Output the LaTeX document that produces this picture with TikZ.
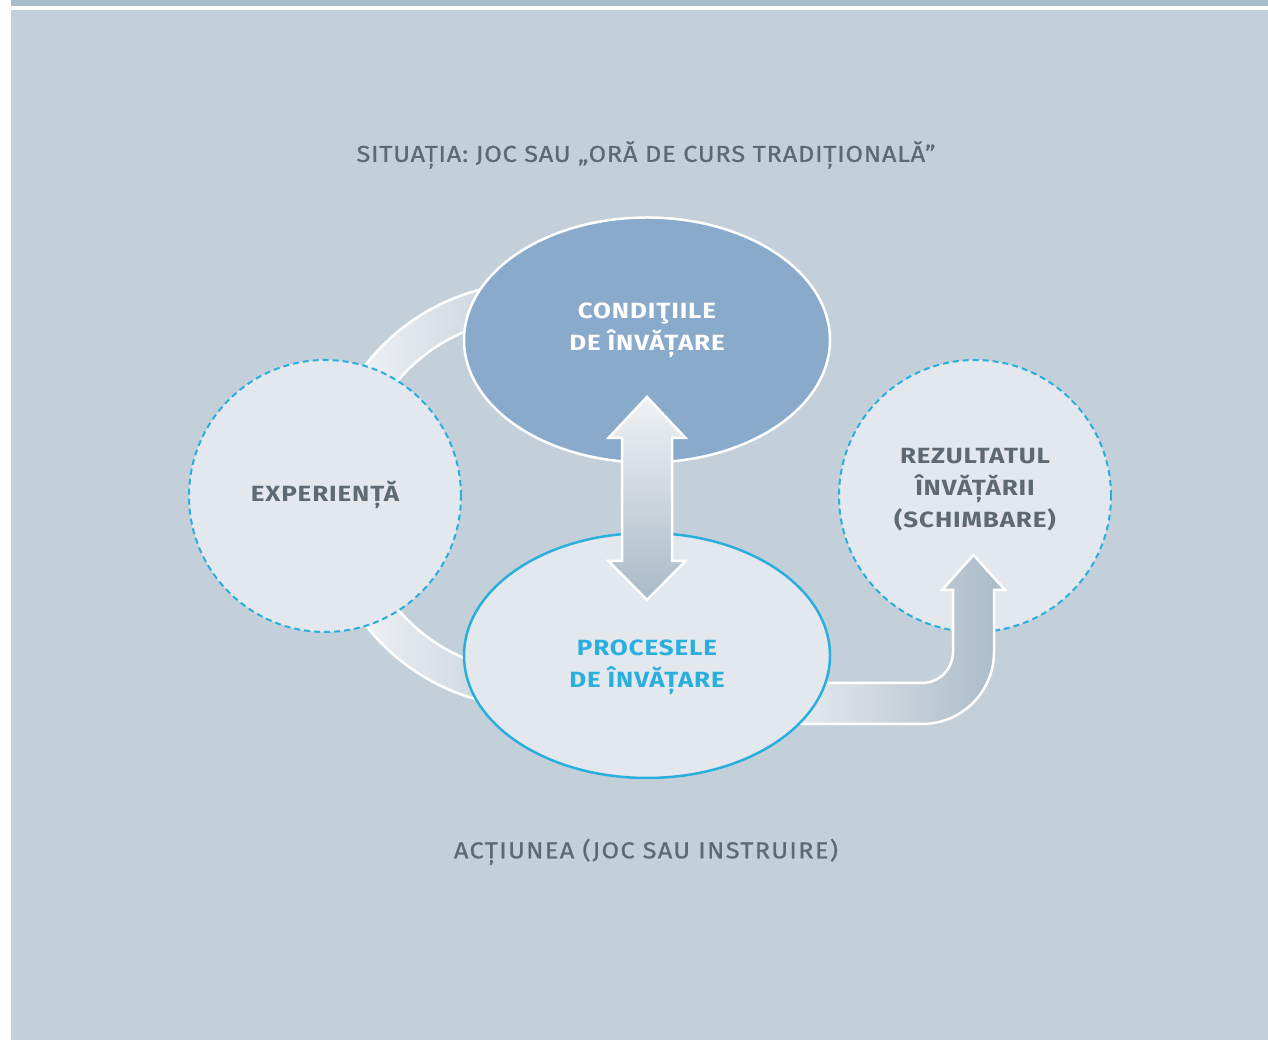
\documentclass[tikz,border=0pt]{standalone}
\usepackage{fontspec}
\setmainfont{Fira Sans}
\newfontfamily\capfont[FakeBold=0.8,FakeStretch=1.1,LetterSpace=3.5]{Fira Sans}
\newfontfamily\capfontb[FakeBold=0.8,FakeStretch=1.1,LetterSpace=6]{Fira Sans}
\newfontfamily\lblfont[FakeStretch=1.18,LetterSpace=4]{Fira Sans}
\usetikzlibrary{shapes.geometric}
\definecolor{bgmain}{HTML}{C3D0DA}
\definecolor{bgstrip}{HTML}{A9BCC9}
\definecolor{condfill}{HTML}{8AAACB}
\definecolor{palefill}{HTML}{E3E8EF}
\definecolor{cyanline}{HTML}{2AAFDD}
\definecolor{captxt}{HTML}{5E6A73}
\definecolor{gradlight}{HTML}{F0F2F5}
\definecolor{graddark}{HTML}{A9BAC7}
\definecolor{bandright}{HTML}{C9D3DC}
\tikzset{
  caption/.style={text=captxt,font=\capfont\fontsize{23}{32}\selectfont,inner sep=0},
  captionb/.style={text=captxt,font=\capfontb\fontsize{23}{32}\selectfont,inner sep=0},
  lbl/.style={font=\lblfont\bfseries\fontsize{22}{32}\selectfont,align=center,inner sep=0},
  ovalbox/.style={ellipse,minimum width=366pt,minimum height=245pt,inner sep=0,line width=2.5pt},
  dashcirc/.style={circle,minimum size=272pt,inner sep=0,fill=palefill,draw=cyanline,line width=2pt,dash pattern=on 6pt off 4pt},
  band/.style={draw=white,line width=2.5pt,left color=gradlight,right color=bandright},
  bigarrow/.style={draw=white,line width=2.5pt,line join=miter},
}
\begin{document}
\begin{tikzpicture}[x=1pt,y=1pt]
\useasboundingbox (0,0) rectangle (1268,1040);
\fill[white] (0,0) rectangle (1268,1040);
\fill[bgstrip] (11,1034) rectangle (1268,1040);
\fill[bgmain] (11,0) rectangle (1268,1030);
\coordinate (c) at (533,545);
% left bands
\path[band] ([shift={(98:212)}]c) arc[start angle=98,end angle=148,radius=212]
  -- ([shift={(148:177)}]c) arc[start angle=148,end angle=98,radius=177] -- cycle;
\path[band] ([shift={(-98:212)}]c) arc[start angle=-98,end angle=-148,radius=212]
  -- ([shift={(-148:177)}]c) arc[start angle=-148,end angle=-98,radius=177] -- cycle;
% nodes
\node[dashcirc] (exp) at (325,544) {};
\node[ovalbox,fill=condfill,draw=white] (cond) at (647,700) {};
\node[dashcirc] (rez) at (975,544) {};
% right arrow
\path[bigarrow,left color=gradlight,right color=graddark]
  (760,357) -- (922,357) .. controls (939.1,357) and (953,370.9) .. (953,388)
  -- (953,450) -- (942,450) -- (973.5,485) -- (1005,450) -- (994,450)
  -- (994,388) .. controls (994,348.2) and (961.8,316) .. (922,316)
  -- (760,316) -- cycle;
\node[ovalbox,fill=palefill,draw=cyanline] (proc) at (647,384.5) {};
% centre double arrow
\path[bigarrow,top color=gradlight,bottom color=graddark]
  (647,643) -- (685.5,602) -- (672,602) -- (672,479) -- (685.5,479)
  -- (647,440) -- (608.5,479) -- (622,479) -- (622,602) -- (608.5,602) -- cycle;
% labels
\node[lbl,text=white] (condtxt) at (cond.center) [yshift=10pt] {CONDIŢIILE\\DE ÎNVĂȚARE};
\node[lbl,text=cyanline] (proctxt) at (proc.center) [yshift=-12pt] {PROCESELE\\DE ÎNVĂȚARE};
\node[lbl,text=captxt] (exptxt) at (325,545) {EXPERIENȚĂ};
\node[lbl,text=captxt] (reztxt) at (975,550) {REZULTATUL\\ÎNVĂȚĂRII\\(SCHIMBARE)};
\node[caption] (top) at (646,885) {SITUAȚIA: JOC SAU „ORĂ DE CURS TRADIȚIONALĂ”};
\node[captionb] (bot) at (646,188) {ACȚIUNEA (JOC SAU INSTRUIRE)};
\end{tikzpicture}
\end{document}
